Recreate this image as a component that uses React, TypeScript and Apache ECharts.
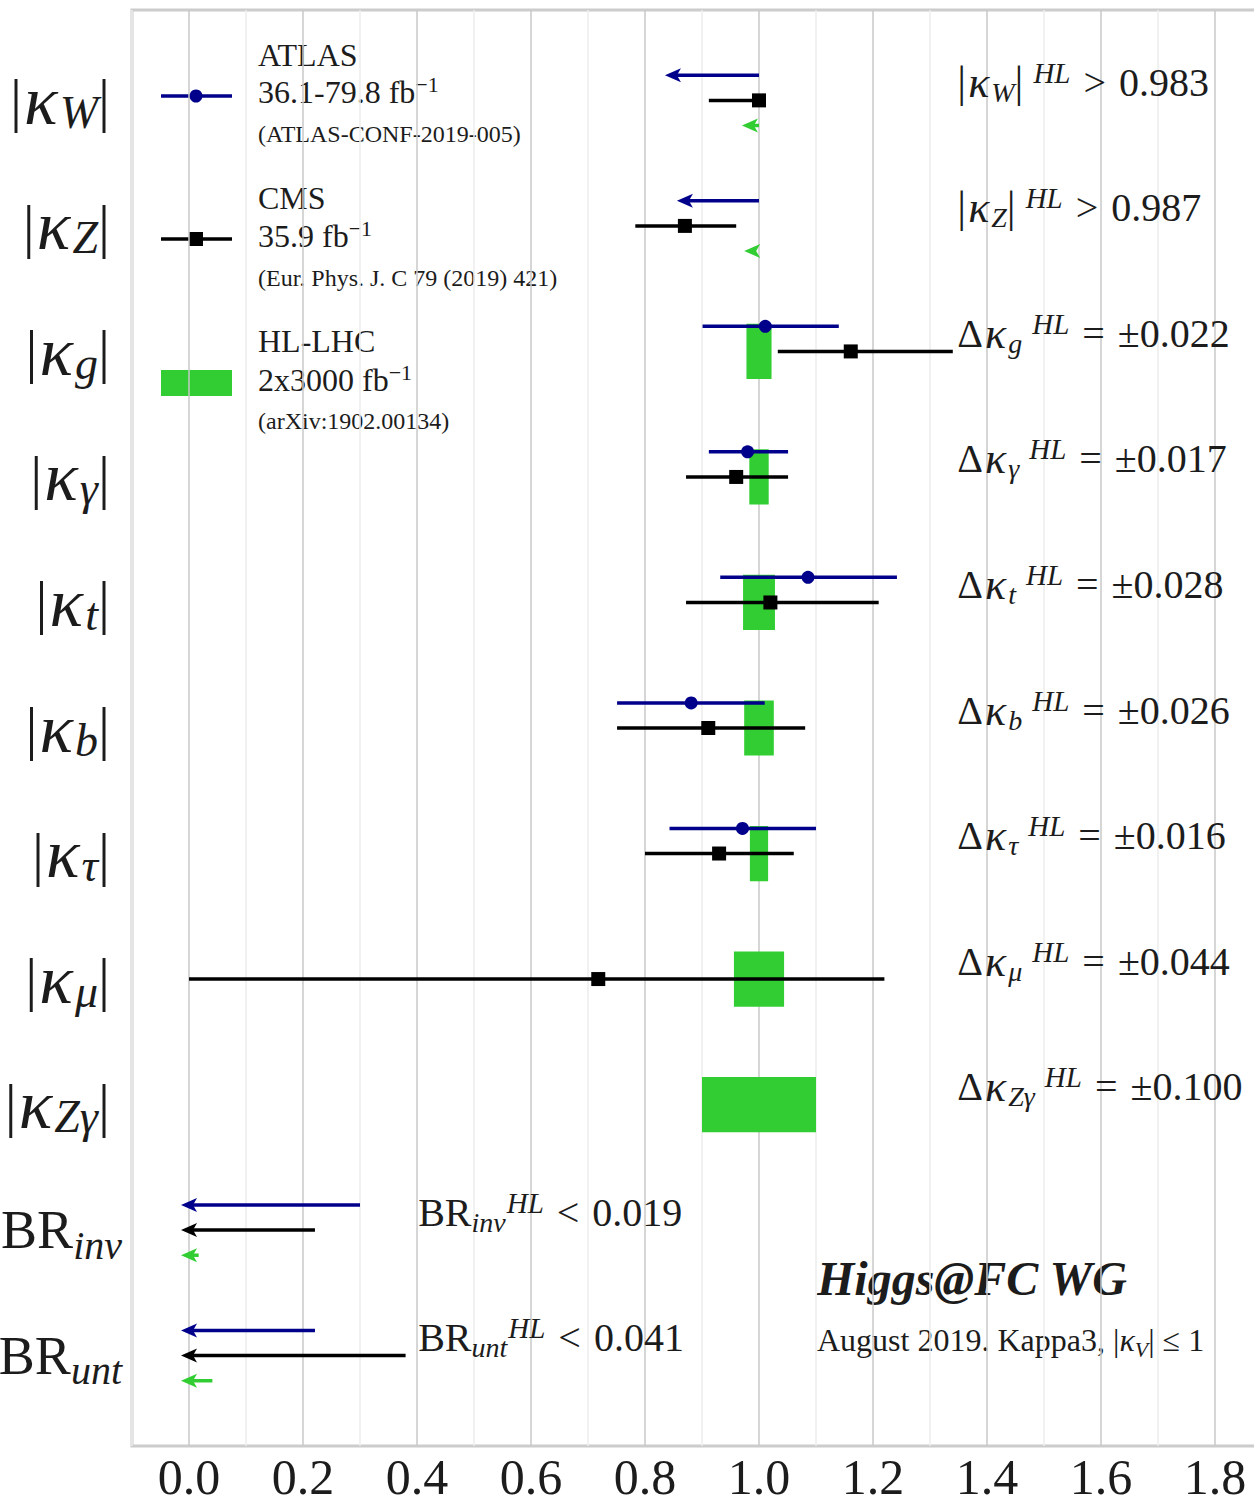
import React, { useEffect, useRef } from "react";
import * as echarts from "echarts";

// ---------- data ----------
const rowBase = ["κ", "κ", "κ", "κ", "κ", "κ", "κ", "κ", "κ", "BR", "BR"];
const rowSub = ["W", "Z", "g", "γ", "t", "b", "τ", "μ", "Zγ", "inv", "unt"];
const rowAbs = [true, true, true, true, true, true, true, true, true, false, false];
const rowIdx = [0, 1, 2, 3, 4, 5, 6, 7, 8, 9, 10];

const xTickValues = [0, 0.2, 0.4, 0.6, 0.8, 1.0, 1.2, 1.4, 1.6, 1.8];

// ATLAS (blue, dot): row, low, central, high
const atlasRows = [2, 3, 4, 5, 6];
const atlasLow = [0.901, 0.912, 0.932, 0.751, 0.843];
const atlasCentral = [1.011, 0.98, 1.086, 0.881, 0.971];
const atlasHigh = [1.14, 1.051, 1.242, 1.01, 1.1];

// CMS (black, square)
const cmsRows = [0, 1, 2, 3, 4, 5, 6, 7];
const cmsLow = [0.912, 0.783, 1.033, 0.872, 0.872, 0.751, 0.8, 0.0];
const cmsCentral = [1.0, 0.87, 1.161, 0.96, 1.02, 0.911, 0.93, 0.718];
const cmsHigh = [1.0, 0.96, 1.34, 1.051, 1.21, 1.081, 1.061, 1.22];

// limit arrows: row, from, tip
const atlasArrowRows = [0, 1, 9, 10];
const atlasArrowFrom = [1.0, 1.0, 0.3, 0.221];
const atlasArrowTo = [0.835, 0.856, -0.014, -0.014];

const cmsArrowRows = [9, 10];
const cmsArrowFrom = [0.221, 0.38];
const cmsArrowTo = [-0.014, -0.014];

const hlArrowRows = [0, 1, 9, 10];
const hlArrowFrom = [1.0, 1.0, 0.017, 0.041];
const hlArrowTo = [0.97, 0.974, -0.014, -0.014];
const hlLimitOp = [">", ">", "<", "<"];
const hlLimitValue = ["0.983", "0.987", "0.019", "0.041"];

// HL-LHC bands: row, central, half width
const hlBandRows = [2, 3, 4, 5, 6, 7, 8];
const hlBandCentral = [1.0, 1.0, 1.0, 1.0, 1.0, 1.0, 1.0];
const hlBandDelta = [0.022, 0.017, 0.028, 0.026, 0.016, 0.044, 0.1];

// ---------- style ----------
const FONT = "Liberation Serif";
const INK = "#1c1c1c";
const BLUE = "#00008b";
const BLACK = "#000000";
const GREEN = "#32cd32";
const OFF_ATLAS = -0.2;
const OFF_CMS = 0;
const OFF_HL = 0.2;
const BAND_HALF = 0.22;
const ANN_X_KAPPA = 1.348;
const ANN_X_BR = 0.402;

function f(size: number, italic = false, bold = false): string {
  return `${italic ? "italic " : ""}${bold ? "bold " : ""}${size}px "${FONT}"`;
}

function rowLabel(i: number): string {
  if (rowAbs[i]) return `{bar||}{k|${rowBase[i]}}{sub|${rowSub[i]}}{barR||}`;
  return `{br|${rowBase[i]}}{subBr|${rowSub[i]}}`;
}

function annPrefix(row: number, delta: boolean): string {
  if (!rowAbs[row]) return `{n|${rowBase[row]}}{s|${rowSub[row]}}{supB|HL}`;
  if (delta) return `{n|Δ}{k|${rowBase[row]}}{s|${rowSub[row]}}{sup|HL}`;
  return `{bar||}{k|${rowBase[row]}}{s|${rowSub[row]}}{bar||}{sup|HL}`;
}

const annTexts: string[] = [];
const annData: number[][] = [];
hlArrowRows.forEach((r, i) => {
  annTexts.push(annPrefix(r, false) + `{op|${hlLimitOp[i]}}{n|${hlLimitValue[i]}}`);
  annData.push([rowAbs[r] ? ANN_X_KAPPA : ANN_X_BR, r]);
});
hlBandRows.forEach((r, i) => {
  annTexts.push(annPrefix(r, true) + `{op|=}{n|±${hlBandDelta[i].toFixed(3)}}`);
  annData.push([ANN_X_KAPPA, r]);
});

const annRich: any = {
  n: { font: f(40), fontSize: 40, fontFamily: FONT, fill: INK, lineHeight: 48 },
  op: { font: f(40), fontSize: 40, fontFamily: FONT, fill: INK, lineHeight: 48, padding: [0, 13, 0, 13] },
  bar: { font: f(44), fontSize: 44, fontFamily: FONT, fill: INK, lineHeight: 48 },
  k: { font: f(44, true), fontSize: 44, fontFamily: FONT, fontStyle: "italic", fill: INK, lineHeight: 48, padding: [0, 2, 0, 2] },
  s: { font: f(28, true), fontSize: 28, fontFamily: FONT, fontStyle: "italic", fill: INK, lineHeight: 31, verticalAlign: "bottom" },
  sup: { font: f(29, true), fontSize: 29, fontFamily: FONT, fontStyle: "italic", fill: INK, lineHeight: 26, verticalAlign: "top", padding: [0, 0, 0, 10] },
  supB: { font: f(29, true), fontSize: 29, fontFamily: FONT, fontStyle: "italic", fill: INK, lineHeight: 26, verticalAlign: "top", padding: [0, 0, 0, 1] },
};

function errRenderer(color: string, off: number, marker: "circle" | "square") {
  return (_p: any, api: any) => {
    const row = api.value(0) + off;
    const pl = api.coord([api.value(1), row]);
    const pc = api.coord([api.value(2), row]);
    const ph = api.coord([api.value(3), row]);
    const children: any[] = [
      { type: "line", shape: { x1: pl[0], y1: pl[1], x2: ph[0], y2: ph[1] }, style: { stroke: color, lineWidth: 3.5 } },
    ];
    if (marker === "circle") {
      children.push({ type: "circle", shape: { cx: pc[0], cy: pc[1], r: 6.5 }, style: { fill: color } });
    } else {
      children.push({ type: "rect", shape: { x: pc[0] - 7, y: pc[1] - 7, width: 14, height: 14 }, style: { fill: color } });
    }
    return { type: "group", children };
  };
}

function arrowRenderer(color: string, off: number) {
  const headLen = 16;
  const headHalf = 7;
  return (_p: any, api: any) => {
    const row = api.value(0) + off;
    const ps = api.coord([api.value(1), row]);
    const pt = api.coord([api.value(2), row]);
    const dir = pt[0] < ps[0] ? -1 : 1;
    const baseX = pt[0] - dir * headLen;
    const children: any[] = [];
    if ((baseX - ps[0]) * dir > 0) {
      children.push({
        type: "line",
        shape: { x1: ps[0], y1: ps[1], x2: baseX + dir * 4, y2: ps[1] },
        style: { stroke: color, lineWidth: 3.5 },
      });
    }
    children.push({
      type: "polygon",
      shape: {
        points: [
          [pt[0], pt[1]],
          [baseX, pt[1] - headHalf],
          [baseX + dir * 4, pt[1]],
          [baseX, pt[1] + headHalf],
        ],
      },
      style: { fill: color },
    });
    return { type: "group", children };
  };
}

function bandRenderer(_p: any, api: any) {
  const row = api.value(0);
  const c = api.value(1);
  const d = api.value(2);
  const p1 = api.coord([c - d, row - BAND_HALF]);
  const p2 = api.coord([c + d, row + BAND_HALF]);
  return {
    type: "rect",
    shape: {
      x: Math.min(p1[0], p2[0]),
      y: Math.min(p1[1], p2[1]),
      width: Math.abs(p2[0] - p1[0]),
      height: Math.abs(p2[1] - p1[1]),
    },
    style: { fill: GREEN },
  };
}

function annRenderer(p: any, api: any) {
  const pt = api.coord([api.value(0), api.value(1)]);
  return {
    type: "text",
    x: pt[0],
    y: pt[1] - 18,
    style: {
      text: annTexts[p.dataIndex],
      rich: annRich,
      font: f(40),
      fontSize: 40,
      fontFamily: FONT,
      fill: INK,
      align: "left",
      verticalAlign: "middle",
      textAlign: "left",
      textVerticalAlign: "middle",
    },
  };
}

function legendText(x: number, y: number, text: string, size: number): any {
  return {
    type: "text",
    x,
    y,
    style: {
      text,
      font: f(size),
      fontSize: size,
      fontFamily: FONT,
      fill: INK,
      align: "left",
      verticalAlign: "middle",
      textAlign: "left",
      textVerticalAlign: "middle",
      rich: {
        n: { font: f(size), fontSize: size, fontFamily: FONT, fill: INK, lineHeight: 38 },
        sup: { font: f(22), fontSize: 22, fontFamily: FONT, fill: INK, lineHeight: 22, verticalAlign: "top" },
      },
    },
  };
}

export default function App() {
  const ref = useRef<HTMLDivElement>(null);
  useEffect(() => {
    if (!ref.current) return;
    const chart = echarts.init(ref.current, null, { renderer: "svg" });
    const option: any = {
      animation: false,
      backgroundColor: "#ffffff",
      textStyle: { fontFamily: FONT },
      grid: {
        left: 132,
        top: 10,
        width: 1140,
        height: 1436,
        show: true,
        borderColor: "#cccccc",
        borderWidth: 3,
        backgroundColor: "transparent",
        containLabel: false,
        outerBoundsMode: "none",
      },
      xAxis: {
        type: "value",
        min: -0.1,
        max: 1.9,
        interval: 0.1,
        axisLine: { show: false },
        axisTick: { show: false },
        splitLine: { show: true, lineStyle: { color: ["#ececec", "#c9c9c9"], width: 1.5 } },
        axisLabel: {
          margin: 6,
          fontSize: 50,
          lineHeight: 50,
          fontFamily: FONT,
          color: INK,
          formatter: (v: number) => {
            const k = xTickValues.findIndex((t) => Math.abs(t - v) < 1e-6);
            return k >= 0 ? xTickValues[k].toFixed(1) : "";
          },
        },
      },
      yAxis: {
        type: "value",
        min: -0.72,
        max: 10.72,
        inverse: true,
        axisLine: { show: false },
        axisTick: { show: false },
        splitLine: { show: false },
        axisLabel: {
          customValues: rowIdx,
          margin: 10,
          formatter: (v: number) => rowLabel(Math.round(v)),
          rich: {
            bar: { fontSize: 60, fontFamily: FONT, color: INK, lineHeight: 70 },
            barR: { fontSize: 60, fontFamily: FONT, color: INK, lineHeight: 70, padding: [0, 12, 0, 0] },
            k: { fontSize: 70, fontFamily: FONT, fontStyle: "italic", color: INK, lineHeight: 70, padding: [0, 2, 0, 2] },
            sub: { fontSize: 46, fontFamily: FONT, fontStyle: "italic", color: INK, lineHeight: 46, verticalAlign: "bottom" },
            br: { fontSize: 54, fontFamily: FONT, color: INK, lineHeight: 70 },
            subBr: { fontSize: 40, fontFamily: FONT, fontStyle: "italic", color: INK, lineHeight: 44, verticalAlign: "bottom" },
          },
        },
      },
      series: [
        {
          name: "HL-LHC bands",
          type: "custom",
          renderItem: bandRenderer,
          encode: { x: [1, 2], y: 0 },
          data: hlBandRows.map((r, i) => [r, hlBandCentral[i], hlBandDelta[i]]),
          silent: true,
        },
        {
          name: "ATLAS",
          type: "custom",
          renderItem: errRenderer(BLUE, OFF_ATLAS, "circle"),
          encode: { x: [1, 2, 3], y: 0 },
          data: atlasRows.map((r, i) => [r, atlasLow[i], atlasCentral[i], atlasHigh[i]]),
          silent: true,
        },
        {
          name: "CMS",
          type: "custom",
          renderItem: errRenderer(BLACK, OFF_CMS, "square"),
          encode: { x: [1, 2, 3], y: 0 },
          data: cmsRows.map((r, i) => [r, cmsLow[i], cmsCentral[i], cmsHigh[i]]),
          silent: true,
        },
        {
          name: "ATLAS limits",
          type: "custom",
          renderItem: arrowRenderer(BLUE, OFF_ATLAS),
          encode: { x: [1, 2], y: 0 },
          data: atlasArrowRows.map((r, i) => [r, atlasArrowFrom[i], atlasArrowTo[i]]),
          silent: true,
        },
        {
          name: "CMS limits",
          type: "custom",
          renderItem: arrowRenderer(BLACK, OFF_CMS),
          encode: { x: [1, 2], y: 0 },
          data: cmsArrowRows.map((r, i) => [r, cmsArrowFrom[i], cmsArrowTo[i]]),
          silent: true,
        },
        {
          name: "HL-LHC limits",
          type: "custom",
          renderItem: arrowRenderer(GREEN, OFF_HL),
          encode: { x: [1, 2], y: 0 },
          data: hlArrowRows.map((r, i) => [r, hlArrowFrom[i], hlArrowTo[i]]),
          silent: true,
        },
        {
          name: "HL annotations",
          type: "custom",
          renderItem: annRenderer,
          encode: { x: 0, y: 1 },
          data: annData,
          silent: true,
        },
      ],
      graphic: [
        // legend markers
        { type: "line", shape: { x1: 161, y1: 96, x2: 232, y2: 96 }, style: { stroke: BLUE, lineWidth: 3.5 } },
        { type: "circle", shape: { cx: 196, cy: 96, r: 6.5 }, style: { fill: BLUE } },
        { type: "line", shape: { x1: 161, y1: 239, x2: 232, y2: 239 }, style: { stroke: BLACK, lineWidth: 3.5 } },
        { type: "rect", shape: { x: 189, y: 232, width: 14, height: 14 }, style: { fill: BLACK } },
        { type: "rect", shape: { x: 161, y: 370, width: 71, height: 26 }, style: { fill: GREEN } },
        // legend texts
        legendText(258, 55, "ATLAS", 32),
        legendText(258, 92, "{n|36.1-79.8 fb}{sup|−1}", 32),
        legendText(258, 134, "(ATLAS-CONF-2019-005)", 24),
        legendText(258, 198, "CMS", 32),
        legendText(258, 236, "{n|35.9 fb}{sup|−1}", 32),
        legendText(258, 278, "(Eur. Phys. J. C 79 (2019) 421)", 24),
        legendText(258, 341, "HL-LHC", 32),
        legendText(258, 380, "{n|2x3000 fb}{sup|−1}", 32),
        legendText(258, 421, "(arXiv:1902.00134)", 24),
        // footer
        {
          type: "text",
          x: 817,
          y: 1278,
          style: {
            text: "Higgs@FC WG",
            font: f(48, true, true),
            fontSize: 48,
            fontFamily: FONT,
            fontWeight: "bold",
            fontStyle: "italic",
            fill: INK,
            align: "left",
            verticalAlign: "middle",
            textAlign: "left",
            textVerticalAlign: "middle",
          },
        },
        {
          type: "text",
          x: 817,
          y: 1340,
          style: {
            text: "{n|August 2019. Kappa3, |}{k|κ}{s|V}{n|| ≤ 1}",
            font: f(32),
            fontSize: 32,
            fontFamily: FONT,
            fill: INK,
            align: "left",
            verticalAlign: "middle",
            textAlign: "left",
            textVerticalAlign: "middle",
            rich: {
              n: { font: f(32), fontSize: 32, fontFamily: FONT, fill: INK, lineHeight: 40 },
              k: { font: f(32, true), fontSize: 32, fontFamily: FONT, fontStyle: "italic", fill: INK, lineHeight: 40 },
              s: { font: f(22, true), fontSize: 22, fontFamily: FONT, fontStyle: "italic", fill: INK, lineHeight: 26, verticalAlign: "bottom" },
            },
          },
        },
      ],
    };
    chart.setOption(option);
    return () => chart.dispose();
  }, []);
  return (
    <div
      ref={ref}
      style={{ position: "absolute", left: 0, top: 0, width: 1254, height: 1504, background: "#fff" }}
    />
  );
}
